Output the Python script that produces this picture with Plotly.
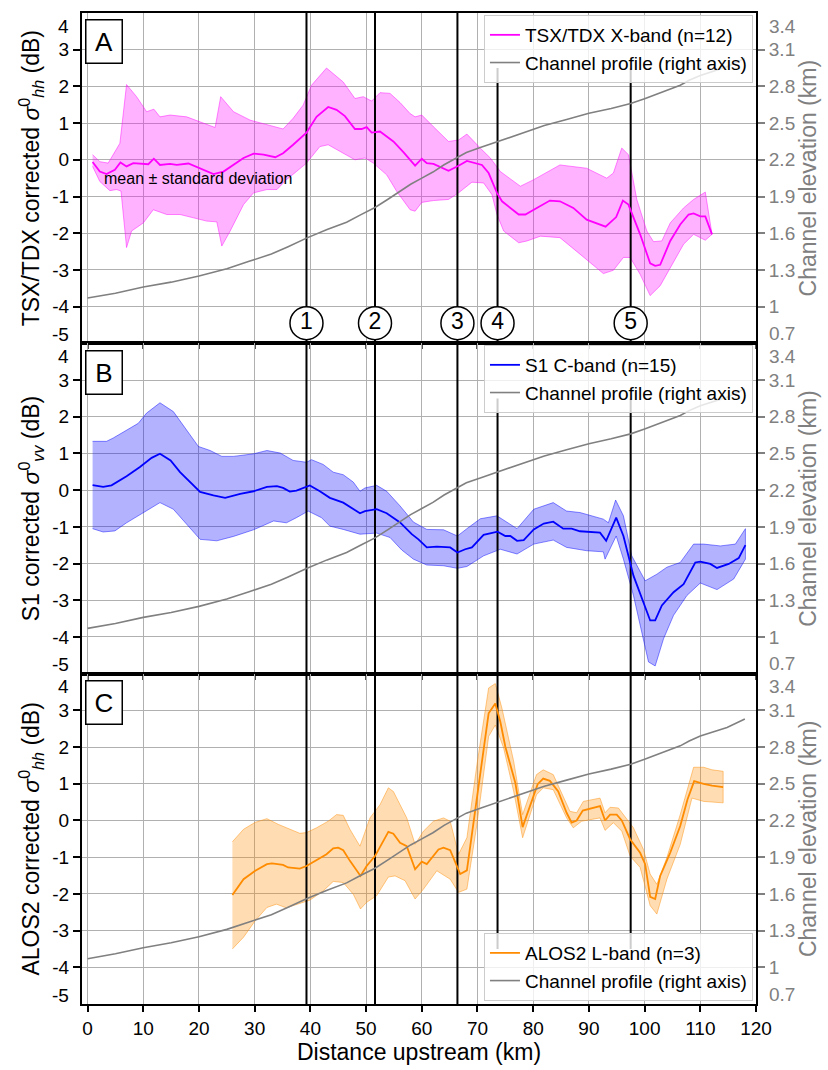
import plotly.graph_objects as go

# ---------------- data ----------------
profile_km = [0, 5, 10, 15, 20, 25, 29, 33, 36, 39.3, 43, 46.5, 49, 51.6, 54, 56, 58, 60, 62, 64,
              66.4, 68, 70.5, 73.6, 78, 82, 86, 90, 94, 97.5, 100, 103, 106.4, 108, 110, 114.8, 118]
profile_elev = [1.07, 1.11, 1.16, 1.20, 1.25, 1.31, 1.37, 1.43, 1.49, 1.56, 1.63, 1.69, 1.75, 1.81, 1.88,
                1.94, 2.00, 2.05, 2.10, 2.16, 2.22, 2.26, 2.30, 2.35, 2.42, 2.48, 2.53, 2.58, 2.62, 2.66,
                2.70, 2.75, 2.81, 2.85, 2.89, 2.96, 3.03]

tsx_km = [0.9, 2.2, 3.4, 4.9, 5.9, 7.0, 8.2, 10.0, 10.9, 11.9, 13.0, 14.8, 16.0, 18.1, 20.2, 22.6, 24.4,
          26.2, 28.0, 29.8, 31.6, 33.7, 35.1, 36.9, 39.3, 41.1, 43.2, 44.7, 46.2, 48.0, 49.2, 50.1, 51.0,
          52.5, 54.9, 56.7, 58.8, 60.0, 60.9, 62.1, 64.8, 66.6, 68.1, 70.8, 72.0, 73.5, 74.4, 77.4, 78.6,
          80.1, 83.0, 84.8, 87.2, 89.6, 93.0, 94.9, 96.1, 97.1, 99.2, 101.0, 101.9, 102.8, 104.6, 106.4,
          107.9, 108.8, 110.0, 110.9, 112.1]
tsx_mean = [-0.06, -0.32, -0.39, -0.27, -0.07, -0.18, -0.09, -0.11, -0.12, 0.03, -0.14, -0.11, -0.14,
            -0.10, -0.23, -0.39, -0.32, -0.14, 0.05, 0.17, 0.14, 0.07, 0.18, 0.41, 0.74, 1.17, 1.44, 1.36,
            1.19, 0.84, 0.84, 0.89, 0.74, 0.77, 0.50, 0.21, -0.16, 0.03, -0.09, -0.11, -0.30, -0.16, -0.03,
            -0.14, -0.36, -0.90, -1.13, -1.49, -1.49, -1.36, -1.11, -1.13, -1.31, -1.63, -1.82, -1.56,
            -1.11, -1.22, -2.03, -2.82, -2.89, -2.86, -2.21, -1.76, -1.49, -1.46, -1.54, -1.54, -2.03]
tsx_up_km = [0.9, 2.2, 3.7, 5.8, 7.0, 8.8, 10.6, 11.9, 13.0, 14.8, 17.8, 20.2, 22.9, 23.9, 26.2, 29.2,
             32.2, 35.1, 36.9, 38.7, 40.2, 42.9, 45.9, 48.0, 49.5, 51.0, 52.5, 54.3, 56.1, 57.9, 58.8,
             60.0, 62.1, 64.8, 66.6, 68.1, 70.5, 72.3, 74.1, 77.7, 80.1, 84.8, 89.6, 93.2, 94.4, 95.9,
             97.1, 98.6, 100.4, 101.6, 103.1, 104.6, 107.0, 108.8, 110.9, 112.1]
tsx_up = [0.14, -0.05, -0.09, 0.45, 2.05, 1.72, 1.31, 1.38, 1.17, 1.22, 1.17, 1.04, 0.88, 1.72, 1.31,
          1.08, 0.95, 0.84, 1.13, 1.49, 2.03, 2.50, 2.12, 1.67, 1.72, 1.60, 1.83, 1.81, 1.56, 1.26, 1.17,
          1.22, 0.90, 0.50, 0.54, 0.70, 0.32, 0.05, -0.32, -0.72, -0.54, -0.14, -0.23, -0.50, -0.36, 0.32,
          0.14, -1.08, -1.94, -2.23, -2.21, -1.72, -1.31, -1.08, -0.88, -2.03]
tsx_lo_km = [0.9, 2.2, 4.0, 5.2, 6.0, 7.0, 7.9, 10.0, 11.8, 14.2, 16.6, 19.0, 21.4, 23.2, 24.1, 25.6,
             28.0, 29.8, 32.2, 34.0, 35.7, 37.5, 39.3, 41.7, 43.2, 45.9, 48.0, 49.8, 51.3, 53.7, 55.5,
             57.9, 58.8, 60.0, 62.1, 64.8, 66.6, 69.0, 71.1, 72.6, 73.5, 74.7, 77.4, 78.9, 81.3, 84.8,
             88.4, 92.6, 94.4, 96.2, 97.4, 99.2, 101.0, 102.8, 104.6, 107.0, 108.8, 110.9, 112.1]
tsx_lo = [-0.18, -0.59, -0.84, -0.81, -0.85, -2.39, -1.94, -1.72, -1.36, -1.49, -1.49, -1.58, -1.67,
          -1.69, -2.35, -1.94, -1.22, -0.90, -0.81, -0.81, -0.54, -0.32, -0.09, 0.36, 0.41, 0.18, 0.00,
          0.05, -0.09, -0.41, -0.86, -1.36, -1.40, -1.16, -1.11, -1.08, -0.90, -0.61, -0.63, -0.95, -1.49,
          -1.94, -2.26, -2.21, -2.08, -2.12, -2.57, -3.10, -3.01, -2.66, -2.66, -3.12, -3.70, -3.43,
          -2.94, -2.30, -2.03, -2.19, -2.03]

s1_km = [0.9, 2.8, 4.3, 7.0, 9.4, 11.5, 13.0, 14.9, 16.6, 18.4, 20.2, 22.6, 24.7, 27.4, 29.8, 32.2, 34.0,
         35.1, 36.3, 37.5, 39.9, 41.7, 43.5, 45.9, 47.7, 48.9, 49.8, 51.9, 53.7, 56.1, 58.2, 59.4, 60.9,
         62.7, 65.1, 66.4, 67.8, 69.0, 71.1, 73.6, 75.0, 75.9, 77.1, 78.3, 80.1, 81.9, 83.6, 85.4, 86.9,
         88.4, 92.0, 93.1, 94.9, 96.2, 98.0, 101.0, 101.9, 103.1, 105.2, 107.0, 109.1, 110.0, 111.8,
         113.0, 115.1, 116.9, 118.1]
s1_mean = [0.14, 0.09, 0.13, 0.38, 0.63, 0.88, 0.99, 0.81, 0.49, 0.22, -0.05, -0.14, -0.21, -0.10,
           -0.03, 0.09, 0.11, 0.06, -0.04, -0.01, 0.13, -0.03, -0.21, -0.34, -0.51, -0.63, -0.57, -0.52,
           -0.63, -0.88, -1.20, -1.34, -1.56, -1.54, -1.56, -1.70, -1.61, -1.56, -1.22, -1.13, -1.25,
           -1.25, -1.38, -1.36, -1.07, -0.91, -0.86, -1.05, -1.05, -1.12, -1.16, -1.38, -0.75, -1.25,
           -2.33, -3.55, -3.55, -3.14, -2.78, -2.56, -1.97, -1.95, -2.01, -2.12, -2.01, -1.85, -1.50]
s1_up_km = [0.9, 3.4, 4.6, 7.0, 9.1, 10.6, 13.0, 15.4, 17.8, 19.9, 22.0, 24.1, 26.2, 29.8, 32.2, 34.6,
            36.9, 39.3, 40.2, 42.3, 44.1, 45.9, 47.7, 48.9, 49.8, 51.9, 53.7, 56.1, 58.5, 60.9, 63.9,
            66.4, 68.1, 70.5, 73.5, 77.1, 80.1, 83.6, 86.0, 88.4, 92.6, 93.5, 94.8, 96.2, 97.7, 100.1,
            102.2, 104.0, 106.4, 108.8, 110.6, 113.6, 116.3, 118.1]
s1_up = [1.33, 1.33, 1.42, 1.64, 1.82, 2.10, 2.38, 2.14, 1.64, 1.19, 1.08, 0.92, 0.92, 0.99, 1.08, 1.01,
         0.81, 0.76, 0.83, 0.70, 0.49, 0.42, 0.22, -0.03, 0.06, 0.13, -0.03, -0.43, -0.87, -1.07, -1.08,
         -1.25, -1.05, -0.78, -0.70, -1.05, -0.52, -0.34, -0.57, -0.61, -0.79, -0.89, -0.27, -0.70,
         -1.79, -2.47, -2.29, -2.10, -1.97, -1.47, -1.47, -1.52, -1.47, -1.05]
s1_lo_km = [0.9, 2.8, 4.9, 7.0, 9.4, 13.0, 15.4, 17.8, 20.2, 23.2, 26.2, 29.8, 33.4, 35.7, 37.5, 39.6,
            42.0, 43.5, 45.9, 48.9, 51.9, 54.3, 56.4, 58.5, 60.9, 63.9, 66.4, 68.1, 71.1, 74.1, 77.1,
            80.1, 83.6, 86.0, 89.6, 92.6, 92.9, 94.9, 96.2, 98.0, 100.7, 101.9, 103.4, 105.2, 107.6,
            110.0, 113.0, 116.0, 118.1]
s1_lo = [-1.05, -1.14, -1.11, -0.89, -0.66, -0.34, -0.52, -0.93, -1.34, -1.38, -1.26, -1.08, -0.84,
         -0.89, -0.75, -0.57, -0.75, -0.98, -1.07, -1.20, -1.17, -1.29, -1.63, -1.88, -2.04, -2.06,
         -2.13, -2.08, -1.79, -1.61, -1.74, -1.47, -1.36, -1.56, -1.65, -1.68, -1.88, -1.25, -1.88,
         -2.87, -4.68, -4.79, -4.05, -3.41, -2.87, -2.53, -2.71, -2.42, -1.88]

alos_km = [26.0, 28.0, 30.1, 32.2, 33.1, 35.1, 36.0, 38.1, 39.3, 41.1, 42.9, 44.1, 45.0, 45.9, 47.1,
           49.0, 50.1, 51.6, 52.8, 54.0, 54.9, 56.1, 57.3, 58.8, 60.0, 60.9, 63.0, 63.9, 65.1, 66.9,
           68.1, 69.9, 72.0, 73.2, 74.1, 75.0, 76.8, 78.1, 79.5, 80.8, 81.8, 83.0, 84.5, 86.0, 86.9,
           87.8, 88.9, 92.0, 92.9, 93.8, 95.0, 95.9, 97.4, 99.2, 100.1, 101.0, 101.9, 102.8, 104.6,
           106.4, 107.7, 108.9, 110.6, 112.1, 114.1]
alos_mean = [-2.03, -1.60, -1.37, -1.19, -1.17, -1.21, -1.28, -1.31, -1.24, -1.07, -0.92, -0.76, -0.74,
             -0.81, -1.10, -1.51, -1.24, -0.97, -0.65, -0.31, -0.36, -0.61, -0.70, -1.33, -1.12, -1.19,
             -0.79, -0.74, -0.81, -1.46, -1.36, 0.61, 2.92, 3.19, 2.69, 2.01, 1.02, -0.18, 0.43, 0.99,
             1.14, 1.08, 0.79, 0.21, -0.06, 0.00, 0.27, 0.39, 0.00, 0.16, 0.16, 0.00, -0.51, -0.88,
             -1.19, -2.08, -2.14, -1.51, -0.88, -0.15, 0.57, 1.07, 1.00, 0.95, 0.91]
alos_up_km = [26.0, 28.0, 30.1, 32.2, 34.3, 35.7, 38.1, 39.3, 41.1, 43.2, 44.7, 45.9, 47.1, 48.9, 50.7,
              52.5, 54.0, 54.9, 56.1, 57.3, 58.8, 60.3, 62.1, 63.9, 65.1, 66.6, 68.1, 69.9, 72.0, 73.2,
              74.4, 76.5, 78.1, 80.6, 81.8, 83.6, 86.6, 87.8, 89.0, 92.0, 92.9, 93.8, 95.3, 98.0, 99.8,
              101.0, 102.2, 104.0, 106.4, 108.8, 110.6, 112.1, 114.1]
alos_up = [-0.58, -0.24, -0.05, 0.05, -0.11, -0.20, -0.35, -0.33, -0.20, -0.02, 0.16, 0.14, -0.24,
           -0.70, 0.07, 0.43, 0.89, 0.79, 0.41, 0.07, -0.65, -0.29, -0.02, 0.07, -0.02, -0.92, -0.47,
           1.52, 3.61, 3.73, 3.05, 1.61, 0.16, 1.25, 1.38, 1.25, 0.25, 0.21, 0.52, 0.61, 0.21, 0.36,
           0.34, -0.20, -0.79, -1.46, -1.74, -1.01, 0.16, 1.45, 1.45, 1.38, 1.34]
alos_lo_km = [26.0, 28.0, 30.1, 32.2, 33.9, 35.7, 38.1, 39.9, 42.3, 44.1, 45.9, 47.7, 49.0, 50.1, 51.9,
              54.0, 55.2, 57.0, 58.8, 60.3, 62.7, 65.1, 66.6, 68.1, 69.9, 72.0, 73.2, 74.7, 76.5, 78.1,
              80.6, 81.8, 83.6, 86.0, 87.2, 88.7, 92.0, 92.9, 94.4, 95.9, 97.4, 99.2, 101.0, 102.2,
              104.0, 106.4, 108.5, 110.6, 114.1]
alos_lo = [-3.50, -3.18, -2.73, -2.37, -2.28, -2.38, -2.26, -2.17, -1.92, -1.66, -1.69, -2.01, -2.41,
           -2.23, -2.05, -1.54, -1.51, -1.64, -2.14, -1.87, -1.37, -1.60, -1.96, -1.87, -0.11, 2.29,
           2.60, 1.97, 0.79, -0.47, 0.70, 0.89, 0.84, 0.07, -0.20, -0.02, 0.07, -0.27, -0.06, -0.29,
           -0.97, -1.28, -2.32, -2.55, -1.60, -0.65, 0.61, 0.52, 0.48]

marker_km = [39.3, 51.6, 66.4, 73.6, 97.5]
marker_labels = ["1", "2", "3", "4", "5"]

left_ticks = [-4, -3, -2, -1, 0, 1, 2, 3]
left_ticktext = ["-4", "-3", "-2", "-1", "0", "1", "2", "3"]
right_ticks = [1.0, 1.3, 1.6, 1.9, 2.2, 2.5, 2.8, 3.1]
right_ticktext = ["1", "1.3", "1.6", "1.9", "2.2", "2.5", "2.8", "3.1"]
x_ticks = list(range(0, 121, 10))

for a, b in [(tsx_km, tsx_mean), (tsx_up_km, tsx_up), (tsx_lo_km, tsx_lo), (s1_km, s1_mean),
             (s1_up_km, s1_up), (s1_lo_km, s1_lo), (alos_km, alos_mean), (alos_up_km, alos_up),
             (alos_lo_km, alos_lo), (profile_km, profile_elev)]:
    assert len(a) == len(b), (len(a), len(b))

# ---------------- styling ----------------
FONT = "Liberation Sans, Arial, sans-serif"
FS = 19          # tick labels / legend
FT = 23          # axis titles
GRID = "#b0b0b0"
GRAY = "#808080"
Y_MIN, Y_MAX = -5, 4
CIRCLE_Y = -4.45
SHORT_TOP = 2.5      # lines 4,5 in panels A, B end under the legend
SHORT_BOTTOM = -3.5  # lines 4,5 in panel C stop above the legend

panels = [
    dict(name="TSX/TDX X-band (n=12)", color="#ff00ff", fill="rgba(255,0,255,0.30)",
         edge="rgba(255,0,255,0.45)", km=tsx_km, mean=tsx_mean, up_km=tsx_up_km, up=tsx_up,
         lo_km=tsx_lo_km, lo=tsx_lo, letter="A",
         title="TSX/TDX corrected <i>σ</i><sup>0</sup><sub><i>hh</i></sub> (dB)"),
    dict(name="S1 C-band (n=15)", color="#0000ff", fill="rgba(0,0,255,0.30)",
         edge="rgba(0,0,255,0.45)", km=s1_km, mean=s1_mean, up_km=s1_up_km, up=s1_up,
         lo_km=s1_lo_km, lo=s1_lo, letter="B",
         title="S1 corrected <i>σ</i><sup>0</sup><sub><i>vv</i></sub> (dB)"),
    dict(name="ALOS2 L-band (n=3)", color="#ff8c00", fill="rgba(255,140,0,0.30)",
         edge="rgba(255,140,0,0.45)", km=alos_km, mean=alos_mean, up_km=alos_up_km, up=alos_up,
         lo_km=alos_lo_km, lo=alos_lo, letter="C",
         title="ALOS2 corrected <i>σ</i><sup>0</sup><sub><i>hh</i></sub> (dB)"),
]

fig = go.Figure()
layout = dict(
    width=828, height=1070,
    margin=dict(l=82, r=72, t=11, b=62),
    paper_bgcolor="white", plot_bgcolor="white",
    font=dict(family=FONT, size=FS, color="black"),
    showlegend=True,
)
domains = [[2 / 3, 1.0], [1 / 3, 2 / 3], [0.0, 1 / 3]]
annotations = []
legend_pos = [
    dict(x=0.9955, y=0.998, xanchor="right", yanchor="top"),
    dict(x=0.9955, y=0.665, xanchor="right", yanchor="top"),
    dict(x=0.9955, y=0.003, xanchor="right", yanchor="bottom"),
]

for i, p in enumerate(panels):
    n = i + 1
    xa = "x" if n == 1 else f"x{n}"
    ya = "y" if n == 1 else f"y{n}"
    yr = f"y{n + 3}"
    leg = "legend" if n == 1 else f"legend{n}"

    # std band
    fig.add_trace(go.Scatter(
        x=p["up_km"] + p["lo_km"][::-1], y=p["up"] + p["lo"][::-1],
        fill="toself", fillcolor=p["fill"], mode="lines",
        line=dict(color=p["edge"], width=1), xaxis=xa, yaxis=ya,
        showlegend=False, hoverinfo="skip"))

    # vertical marker lines
    vx, vy = [], []
    for k, km in enumerate(marker_km):
        if k >= 3 and n in (1, 2):
            lo_y, hi_y = Y_MIN, SHORT_TOP
        elif k >= 3 and n == 3:
            lo_y, hi_y = SHORT_BOTTOM, Y_MAX
        else:
            lo_y, hi_y = Y_MIN, Y_MAX
        vx += [km, km, None]
        vy += [lo_y, hi_y, None]
    fig.add_trace(go.Scatter(
        x=vx, y=vy, mode="lines", line=dict(color="black", width=2),
        xaxis=xa, yaxis=ya, showlegend=False, hoverinfo="skip"))

    # mean
    fig.add_trace(go.Scatter(
        x=p["km"], y=p["mean"], mode="lines", name=p["name"],
        line=dict(color=p["color"], width=1.8), xaxis=xa, yaxis=ya, legend=leg))
    # channel profile (right axis)
    fig.add_trace(go.Scatter(
        x=profile_km, y=profile_elev, mode="lines", name="Channel profile (right axis)",
        line=dict(color=GRAY, width=1.6), xaxis=xa, yaxis=yr, legend=leg))

    xkey = "xaxis" if n == 1 else f"xaxis{n}"
    ykey = "yaxis" if n == 1 else f"yaxis{n}"
    layout[xkey] = dict(
        domain=[0, 1], anchor=ya, range=[-1, 120], tickvals=x_ticks,
        showticklabels=(n == 3), ticks="outside", ticklen=6 if n == 3 else 4,
        tickwidth=1.5, tickcolor="black" if n == 3 else "#555",
        showgrid=True, gridcolor=GRID, gridwidth=1, zeroline=False,
        showline=True, linecolor="black", linewidth=2, mirror=True,
        tickfont=dict(size=FS),
    )
    if n != 1:
        layout[xkey]["matches"] = "x"
    if n == 3:
        layout[xkey]["title"] = dict(text="Distance upstream (km)", font=dict(size=FT), standoff=4)
    layout[ykey] = dict(
        domain=domains[i], anchor=xa, range=[Y_MIN, Y_MAX], tickvals=left_ticks,
        ticktext=left_ticktext,
        ticks="outside", ticklen=7, tickwidth=1.5, tickcolor="black",
        showgrid=True, gridcolor=GRID, gridwidth=1, zeroline=False,
        showline=True, linecolor="black", linewidth=2,
        title=dict(text=p["title"], font=dict(size=FT), standoff=6),
        tickfont=dict(size=FS),
    )
    layout[f"yaxis{n + 3}"] = dict(
        overlaying=ya, anchor=xa, side="right", range=[0.7, 3.4],
        tickvals=right_ticks, ticktext=right_ticktext,
        ticks="outside", ticklen=7, tickwidth=1.5, tickcolor=GRAY,
        showgrid=False, zeroline=False, showline=True, linecolor="black", linewidth=2,
        tickfont=dict(size=FS, color=GRAY),
        title=dict(text="Channel elevation (km)", font=dict(size=FT, color=GRAY), standoff=6),
    )
    layout[leg] = dict(
        **legend_pos[i], xref="paper", yref="paper",
        bgcolor="rgba(255,255,255,0.8)", bordercolor="#cccccc", borderwidth=1,
        font=dict(size=FS), tracegroupgap=0,
    )

    # panel letter
    annotations.append(dict(
        text=p["letter"], xref=f"{xa} domain", yref=f"{ya} domain", x=0.032, y=0.913,
        xanchor="center", yanchor="middle", showarrow=False, font=dict(size=26),
        bordercolor="black", borderwidth=1.5, bgcolor="white", width=33, height=40))
    # end labels, shifted inward as in the reference
    annotations += [
        dict(text="4", xref=f"{xa} domain", yref=f"{ya} domain", x=0, y=1, xanchor="right",
             yanchor="middle", xshift=-11, yshift=-13, showarrow=False, font=dict(size=FS)),
        dict(text="-5", xref=f"{xa} domain", yref=f"{ya} domain", x=0, y=0, xanchor="right",
             yanchor="middle", xshift=-11, yshift=9, showarrow=False, font=dict(size=FS)),
        dict(text="3.4", xref=f"{xa} domain", yref=f"{ya} domain", x=1, y=1, xanchor="left",
             yanchor="middle", xshift=11, yshift=-13, showarrow=False, font=dict(size=FS, color=GRAY)),
        dict(text="0.7", xref=f"{xa} domain", yref=f"{ya} domain", x=1, y=0, xanchor="left",
             yanchor="middle", xshift=11, yshift=10, showarrow=False, font=dict(size=FS, color=GRAY)),
    ]

# circled site numbers in panel A
fig.add_trace(go.Scatter(
    x=marker_km, y=[CIRCLE_Y] * len(marker_km), mode="markers+text", text=marker_labels,
    textposition="middle center", textfont=dict(size=23, color="black", family=FONT),
    marker=dict(size=33, color="white", line=dict(color="black", width=1.5)),
    xaxis="x", yaxis="y", showlegend=False, cliponaxis=False, hoverinfo="skip"))

annotations.append(dict(
    text="mean ± standard deviation", xref="x", yref="y", x=2.6, y=-0.5, xanchor="left",
    yanchor="middle", showarrow=False, font=dict(size=16)))

layout["annotations"] = annotations
fig.update_layout(**layout)
fig.write_html("out.html")
